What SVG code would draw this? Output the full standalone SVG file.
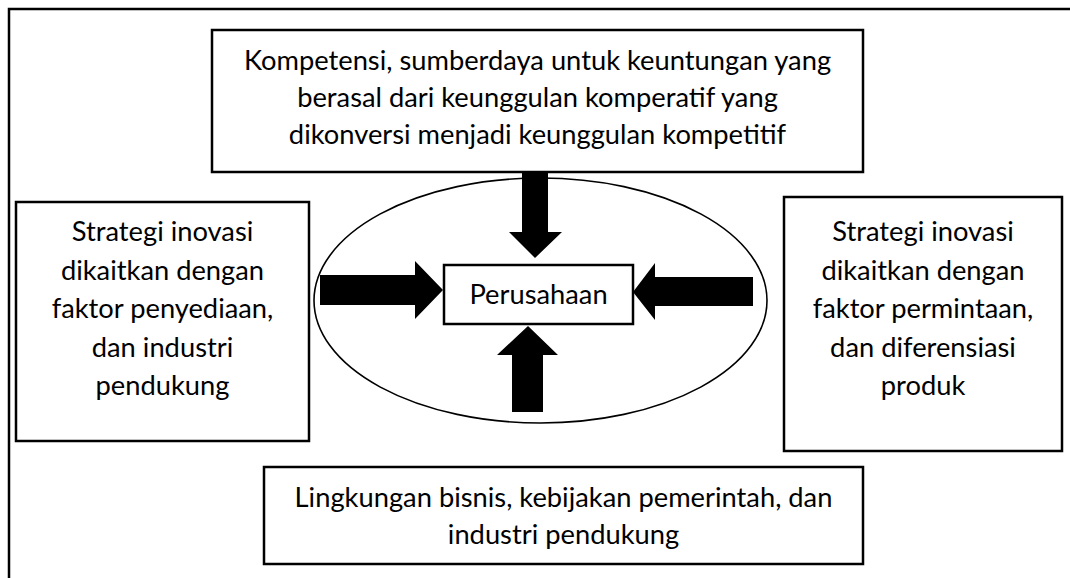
<svg xmlns="http://www.w3.org/2000/svg" width="1070" height="578" viewBox="0 0 1070 578">
<style>
.box{fill:#fff;stroke:#000;stroke-width:2.5}
.t{font-family:Lato,"Open Sans","Liberation Sans",sans-serif;font-size:27.3px;fill:#000;text-anchor:middle}
.arr{fill:#000;stroke:none}
</style>
<rect x="0" y="0" width="1070" height="578" fill="#fff"/>
<rect x="9" y="9" width="1075" height="580" fill="none" stroke="#000" stroke-width="2.5"/>
<g id="ellipse"><ellipse cx="540.5" cy="300.5" rx="226.5" ry="122.5" fill="none" stroke="#000" stroke-width="1.6"/></g>
<g id="top">
<rect class="box" x="212" y="30" width="651" height="142"/>
<text class="t" x="537.5" y="70">Kompetensi, sumberdaya untuk keuntungan yang</text>
<text class="t" x="537.5" y="107">berasal dari keunggulan komperatif yang</text>
<text class="t" x="537.5" y="144">dikonversi menjadi keunggulan kompetitif</text>
</g>
<g id="left">
<rect class="box" x="16" y="202" width="293" height="239"/>
<text class="t" x="162.5" y="241">Strategi inovasi</text>
<text class="t" x="162.5" y="279.5">dikaitkan dengan</text>
<text class="t" x="162.5" y="318">faktor penyediaan,</text>
<text class="t" x="162.5" y="356.5">dan industri</text>
<text class="t" x="162.5" y="395">pendukung</text>
</g>
<g id="right">
<rect class="box" x="784" y="197" width="278" height="254"/>
<text class="t" x="923" y="241">Strategi inovasi</text>
<text class="t" x="923" y="279.5">dikaitkan dengan</text>
<text class="t" x="923" y="318">faktor permintaan,</text>
<text class="t" x="923" y="356.5">dan diferensiasi</text>
<text class="t" x="923" y="395">produk</text>
</g>
<g id="bottom">
<rect class="box" x="264" y="467" width="599" height="97"/>
<text class="t" x="563.5" y="507">Lingkungan bisnis, kebijakan pemerintah, dan</text>
<text class="t" x="563.5" y="544">industri pendukung</text>
</g>
<g id="center">
<rect class="box" x="444" y="265" width="189" height="59"/>
<text class="t" x="538.5" y="304">Perusahaan</text>
</g>
<g id="connectors">
<polygon class="arr" points="320,275 415,275 415,261 443,290 415,319 415,305 320,305"/>
<polygon class="arr" points="753,277 655,277 655,263 633,292 655,320 655,306 753,306"/>
<polygon class="arr" points="522,173 548,173 548,232 562,232 535,258 509,232 522,232"/>
<polygon class="arr" points="512,412 543,412 543,355 558,355 528,326 497,355 512,355"/>
</g>
</svg>
